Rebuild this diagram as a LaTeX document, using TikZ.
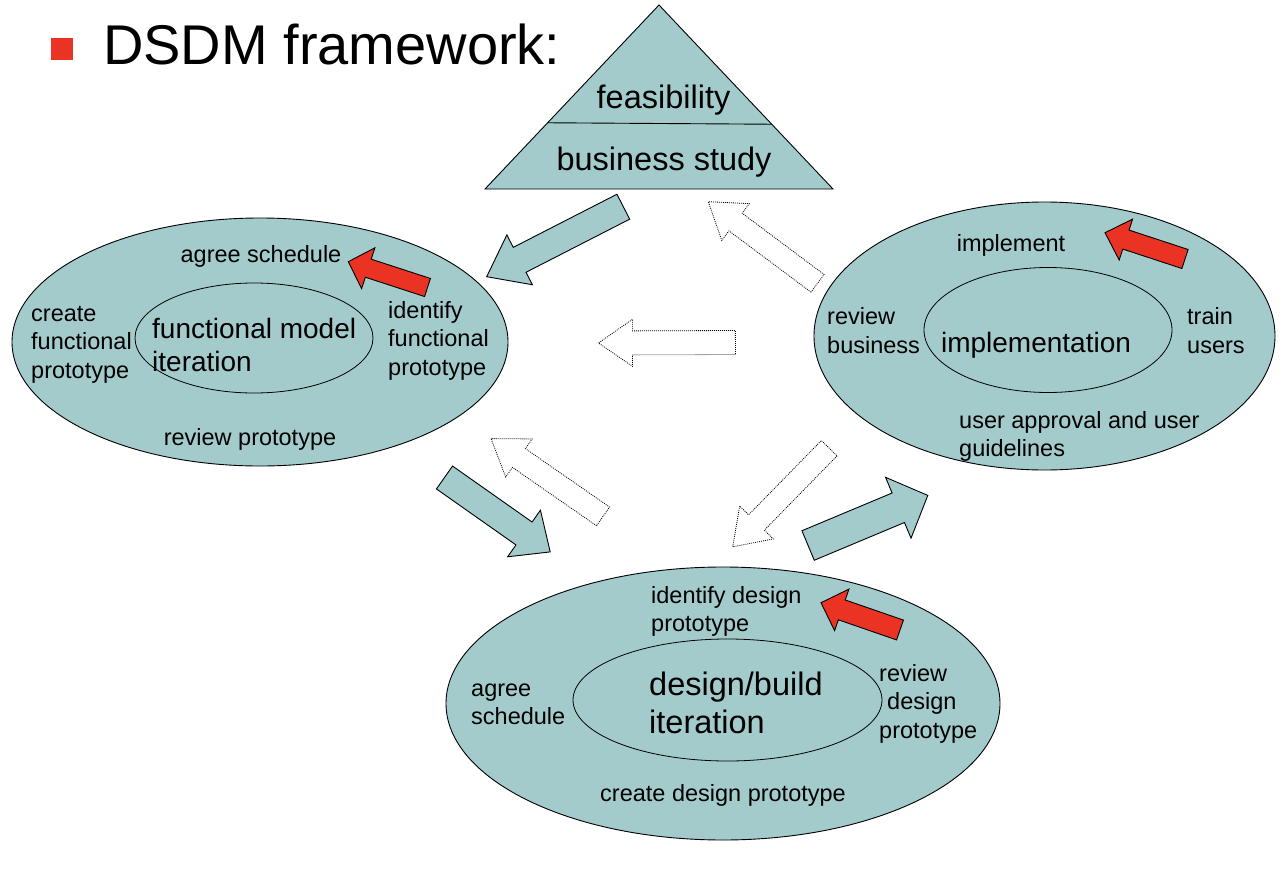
\documentclass[tikz,border=0pt]{standalone}
\usepackage{fontspec}
\setmainfont{Liberation Sans}
\usetikzlibrary{calc,shapes.geometric}
\definecolor{dteal}{RGB}{163,203,203}
\definecolor{dred}{RGB}{234,51,35}
% block arrow: #1 style, #2 tail, #3 tip, #4 half shaft, #5 half head, #6 head length
\newcommand\blockarrow[6]{%
  \coordinate (hb) at ($(#3)!#6!(#2)$);
  \path[#1] ($(#2)!#4!90:(#3)$)
    -- ($(hb)!#4!-90:(#2)$)
    -- ($(hb)!#5!-90:(#2)$)
    -- (#3)
    -- ($(hb)!#5!90:(#2)$)
    -- ($(hb)!#4!90:(#2)$)
    -- ($(#2)!#4!-90:(#3)$) -- cycle;}
\begin{document}
\begin{tikzpicture}[x=1pt,y=-1pt,
  outer/.style={ellipse, draw=black, line width=0.9pt, fill=dteal, inner sep=0pt},
  inner/.style={ellipse, draw=black, line width=0.8pt, inner sep=0pt},
  lbl/.style={font=\fontsize{23.5}{28}\selectfont, inner sep=0pt},
  mid/.style={font=\fontsize{28}{32}\selectfont, inner sep=0pt},
  big/.style={font=\fontsize{32.5}{38}\selectfont, inner sep=0pt},
  tealarrow/.style={fill=dteal, draw=black, line width=0.9pt, line join=miter},
  redarrow/.style={fill=dred, draw=black, line width=0.9pt, line join=miter},
  dotarrow/.style={fill=white, draw=black, line width=0.8pt, dash pattern=on 0.9pt off 1.1pt, line join=miter}]
\fill[white] (0,0) rectangle (1286,870);
\useasboundingbox (0,0) rectangle (1286,870);

% title
\node[fill=dred, minimum size=22pt, inner sep=0pt] (bullet) at (62,49) {};
\node[font=\fontsize{56}{60}\selectfont, anchor=base west, inner sep=0pt] (title) at (103,64) {DSDM framework:};

% triangle
\coordinate (tA) at (659,5);
\coordinate (tL) at (485,189);
\coordinate (tR) at (833,189);
\draw[fill=dteal, line width=0.9pt, line join=miter] (tA) -- (tL) -- (tR) -- cycle;
\coordinate (dL) at ($(tA)!0.64!(tL)$);
\coordinate (dR) at ($(tA)!0.648!(tR)$);
\draw[line width=0.9pt] (dL) -- (dR);
\node[big, anchor=base] (feas) at (663.5,108) {feasibility};
\node[big, anchor=base] (bus) at (664,170.5) {business study};

% functional model iteration
\node[outer, minimum width=496pt, minimum height=248pt] (fmo) at (260,342) {};
\node[inner, minimum width=238pt, minimum height=110pt] (fmi) at (254,338) {};
\node[mid, anchor=base west] (fm1) at (152,338.5) {functional model};
\node[mid, anchor=base west] (fm2) at (152,371.5) {iteration};
\node[lbl, anchor=base] (fa) at (261,262) {agree schedule};
\node[lbl, anchor=base west] (fc1) at (31,321) {create};
\node[lbl, anchor=base west] (fc2) at (31,349.7) {functional};
\node[lbl, anchor=base west] (fc3) at (31,378.4) {prototype};
\node[lbl, anchor=base west] (fi1) at (388,318) {identify};
\node[lbl, anchor=base west] (fi2) at (388,346.7) {functional};
\node[lbl, anchor=base west] (fi3) at (388,375.4) {prototype};
\node[lbl, anchor=base] (fr) at (250,445) {review prototype};

% implementation
\node[outer, minimum width=461pt, minimum height=268pt] (imo) at (1044.5,336) {};
\node[inner, minimum width=248pt, minimum height=125pt] (imi) at (1048,330) {};
\node[mid, anchor=base] (im) at (1036,352.6) {implementation};
\node[lbl, anchor=base] (ii) at (1011,251) {implement};
\node[lbl, anchor=base west] (ir1) at (827,324.7) {review};
\node[lbl, anchor=base west] (ir2) at (827,353.4) {business};
\node[lbl, anchor=base west] (it1) at (1187,324.7) {train};
\node[lbl, anchor=base west] (it2) at (1187,353.4) {users};
\node[lbl, anchor=base west] (iu1) at (959,428) {user approval and user};
\node[lbl, anchor=base west] (iu2) at (959,456.7) {guidelines};

% design/build iteration
\node[outer, minimum width=554pt, minimum height=273pt] (dbo) at (723,703.5) {};
\node[inner, minimum width=309pt, minimum height=122pt] (dbi) at (727.5,700) {};
\node[big, anchor=base west] (db1) at (649,695.3) {design/build};
\node[big, anchor=base west] (db2) at (649,733.3) {iteration};
\node[lbl, anchor=base west] (di1) at (651,603) {identify design};
\node[lbl, anchor=base west] (di2) at (651,631.7) {prototype};
\node[lbl, anchor=base west] (da1) at (471,696) {agree};
\node[lbl, anchor=base west] (da2) at (471,724.7) {schedule};
\node[lbl, anchor=base west] (dr1) at (879,681) {review};
\node[lbl, anchor=base west] (dr2) at (887,709.7) {design};
\node[lbl, anchor=base west] (dr3) at (879,738.4) {prototype};
\node[lbl, anchor=base] (dc) at (723,801) {create design prototype};

% teal block arrows
\coordinate (t1a) at (623.3,206.7); \coordinate (t1b) at (486.7,276.7);
\blockarrow{tealarrow}{t1a}{t1b}{14pt}{28pt}{37pt}
\coordinate (t2a) at (444.5,477.5); \coordinate (t2b) at (550.2,551.9);
\blockarrow{tealarrow}{t2a}{t2b}{14pt}{28.5pt}{32pt}
\coordinate (t3a) at (808.1,545.5); \coordinate (t3b) at (927.8,495.4);
\blockarrow{tealarrow}{t3a}{t3b}{16pt}{33pt}{32pt}

% dotted block arrows
\coordinate (d1a) at (817.5,283.3); \coordinate (d1b) at (708.3,201.7);
\blockarrow{dotarrow}{d1a}{d1b}{11pt}{23pt}{34pt}
\coordinate (d2a) at (735.4,342.5); \coordinate (d2b) at (598.5,343);
\blockarrow{dotarrow}{d2a}{d2b}{12pt}{23.5pt}{34pt}
\coordinate (d3a) at (603,516.4); \coordinate (d3b) at (491,438.6);
\blockarrow{dotarrow}{d3a}{d3b}{11.4pt}{23.2pt}{34pt}
\coordinate (d4a) at (829.2,448.2); \coordinate (d4b) at (732.7,546.8);
\blockarrow{dotarrow}{d4a}{d4b}{11pt}{23.5pt}{34pt}

% red arrows
\coordinate (r1a) at (427.5,287.5); \coordinate (r1b) at (348.3,261.7);
\blockarrow{redarrow}{r1a}{r1b}{9.5pt}{21.5pt}{21pt}
\coordinate (r2a) at (1185,259); \coordinate (r2b) at (1105,232.7);
\blockarrow{redarrow}{r2a}{r2b}{10pt}{21.5pt}{22pt}
\coordinate (r3a) at (900,630); \coordinate (r3b) at (821,602.7);
\blockarrow{redarrow}{r3a}{r3b}{10.5pt}{22pt}{22pt}
\end{tikzpicture}
\end{document}
